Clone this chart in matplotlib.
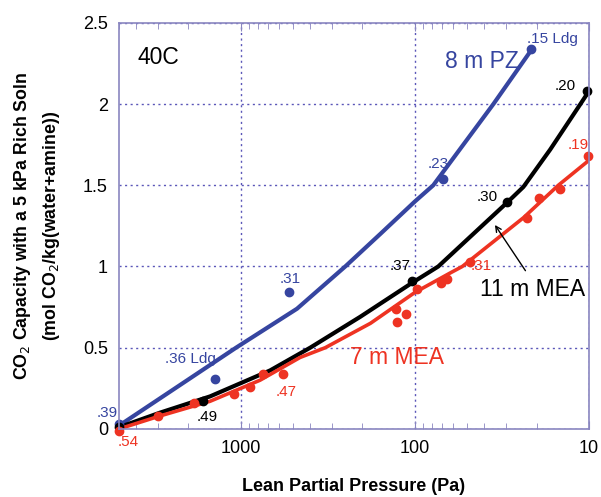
import matplotlib
matplotlib.use("Agg")
import matplotlib.pyplot as plt

plt.rcParams["font.family"] = ["Liberation Sans", "DejaVu Sans"]

# smooth model curves (lean partial pressure in Pa, capacity)
pz_curve_x = [5000, 2232, 1064, 475, 251, 158, 100, 78.4, 35.4, 21.2]
pz_curve_y = [0.02, 0.27, 0.50, 0.74, 1.00, 1.20, 1.40, 1.50, 2.00, 2.34]

mea11_curve_x = [5000, 2906, 1501, 678, 399, 206, 103.5, 73.4, 29.1, 23.8, 16.7, 11.2, 10]
mea11_curve_y = [0.01, 0.10, 0.20, 0.36, 0.50, 0.69, 0.90, 1.00, 1.40, 1.49, 1.72, 2.00, 2.08]

mea7_curve_x = [5000, 2906, 1501, 774, 456, 327, 180, 100, 62.7, 53.4, 23.8, 15, 10.1]
mea7_curve_y = [0.0, 0.08, 0.17, 0.30, 0.44, 0.50, 0.65, 0.84, 0.96, 1.00, 1.30, 1.50, 1.65]

# measured points
pz_pts_x = [5000, 1404, 526, 68.7, 21.4]
pz_pts_y = [0.03, 0.31, 0.84, 1.54, 2.34]

mea11_pts_x = [5000, 1645, 103.5, 29.6, 10.2]
mea11_pts_y = [0.01, 0.17, 0.91, 1.40, 2.08]

mea7_pts_x = [5000, 3000, 1850, 1100, 880, 745, 570, 126, 128, 112, 97,
              71, 65, 48, 22.7, 19.3, 14.6, 10.1]
mea7_pts_y = [-0.01, 0.08, 0.16, 0.215, 0.26, 0.34, 0.34, 0.66, 0.74, 0.71,
              0.86, 0.90, 0.92, 1.03, 1.30, 1.42, 1.48, 1.68]

# loading labels: (text, x, y, colour)
blue = "#3645a0"
red = "#ee3322"
loading_labels = [
    (".15 Ldg", 22.7, 2.40, blue),
    (".23", 85, 1.63, blue),
    (".31", 595, 0.92, blue),
    (".36 Ldg", 2715, 0.43, blue),
    (".39", 6690, 0.10, blue),
    (".54", 5070, -0.08, red),
    (".49", 1780, 0.074, "black"),
    (".47", 634, 0.23, red),
    (".37", 139, 1.00, "black"),
    (".31", 48, 1.00, red),
    (".30", 43.9, 1.43, "black"),
    (".20", 15.7, 2.11, "black"),
    (".19", 13.2, 1.75, red),
]

fig = plt.figure(figsize=(6.01, 4.97), dpi=100)
ax = fig.add_axes([0.198, 0.137, 0.782, 0.817])

ax.plot(pz_curve_x, pz_curve_y, color=blue, lw=3, solid_capstyle="round",
        solid_joinstyle="round")
ax.plot(mea11_curve_x, mea11_curve_y, color="black", lw=3, solid_capstyle="round",
        solid_joinstyle="round")
ax.plot(mea7_curve_x, mea7_curve_y, color=red, lw=2.6, solid_capstyle="round",
        solid_joinstyle="round")

ax.plot(pz_pts_x, pz_pts_y, "o", color=blue, ms=6, clip_on=False)
ax.plot(mea11_pts_x, mea11_pts_y, "o", color="black", ms=6, clip_on=False)
ax.plot(mea7_pts_x, mea7_pts_y, "o", color=red, ms=6, clip_on=False)

ax.set_xscale("log")
ax.set_xlim(5000, 10)
ax.set_ylim(0, 2.5)
ax.set_yticks([0, 0.5, 1, 1.5, 2, 2.5])
ax.set_yticklabels(["0", "0.5", "1", "1.5", "2", "2.5"])
ax.set_xticks([1000, 100, 10])
ax.set_xticklabels(["1000", "100", "10"])

spine_col = "#8a86c0"
for s in ax.spines.values():
    s.set_color(spine_col)
    s.set_linewidth(1.2)
ax.tick_params(which="both", direction="in", top=True, right=True,
               color=spine_col, labelsize=13, pad=8)
ax.tick_params(which="major", length=6)
ax.tick_params(which="minor", length=4)
ax.tick_params(axis="y", which="major", length=0)
ax.grid(True, which="major", color="#5a56b8", linestyle=(0, (1.5, 2.5)), lw=1.0)

for txt, x, y, c in loading_labels:
    ax.text(x, y, txt, color=c, fontsize=11, ha="left", va="center", clip_on=False)

ax.text(3890, 2.285, "40C", fontsize=16.5, ha="left", va="center")
ax.text(66.8, 2.26, "8 m PZ", fontsize=16.5, color=blue, ha="left", va="center")
ax.text(42, 0.86, "11 m MEA", fontsize=16.5, color="black", ha="left", va="center")
ax.text(235, 0.44, "7 m MEA", fontsize=16.5, color=red, ha="left", va="center")
ax.annotate("", xy=(35.4, 1.27), xytext=(22.7, 0.96),
            arrowprops=dict(arrowstyle="->", color="black", lw=1))

ax.set_xlabel("Lean Partial Pressure (Pa)", fontsize=13, fontweight="bold", labelpad=15)
fig.text(0.037, 0.545, "CO$_2$ Capacity with a 5 kPa Rich Soln", rotation=90,
         fontsize=12.8, fontweight="bold", ha="center", va="center")
fig.text(0.085, 0.545, "(mol CO$_2$/kg(water+amine))", rotation=90,
         fontsize=12.8, fontweight="bold", ha="center", va="center")

fig.savefig("out.png", dpi=100)
